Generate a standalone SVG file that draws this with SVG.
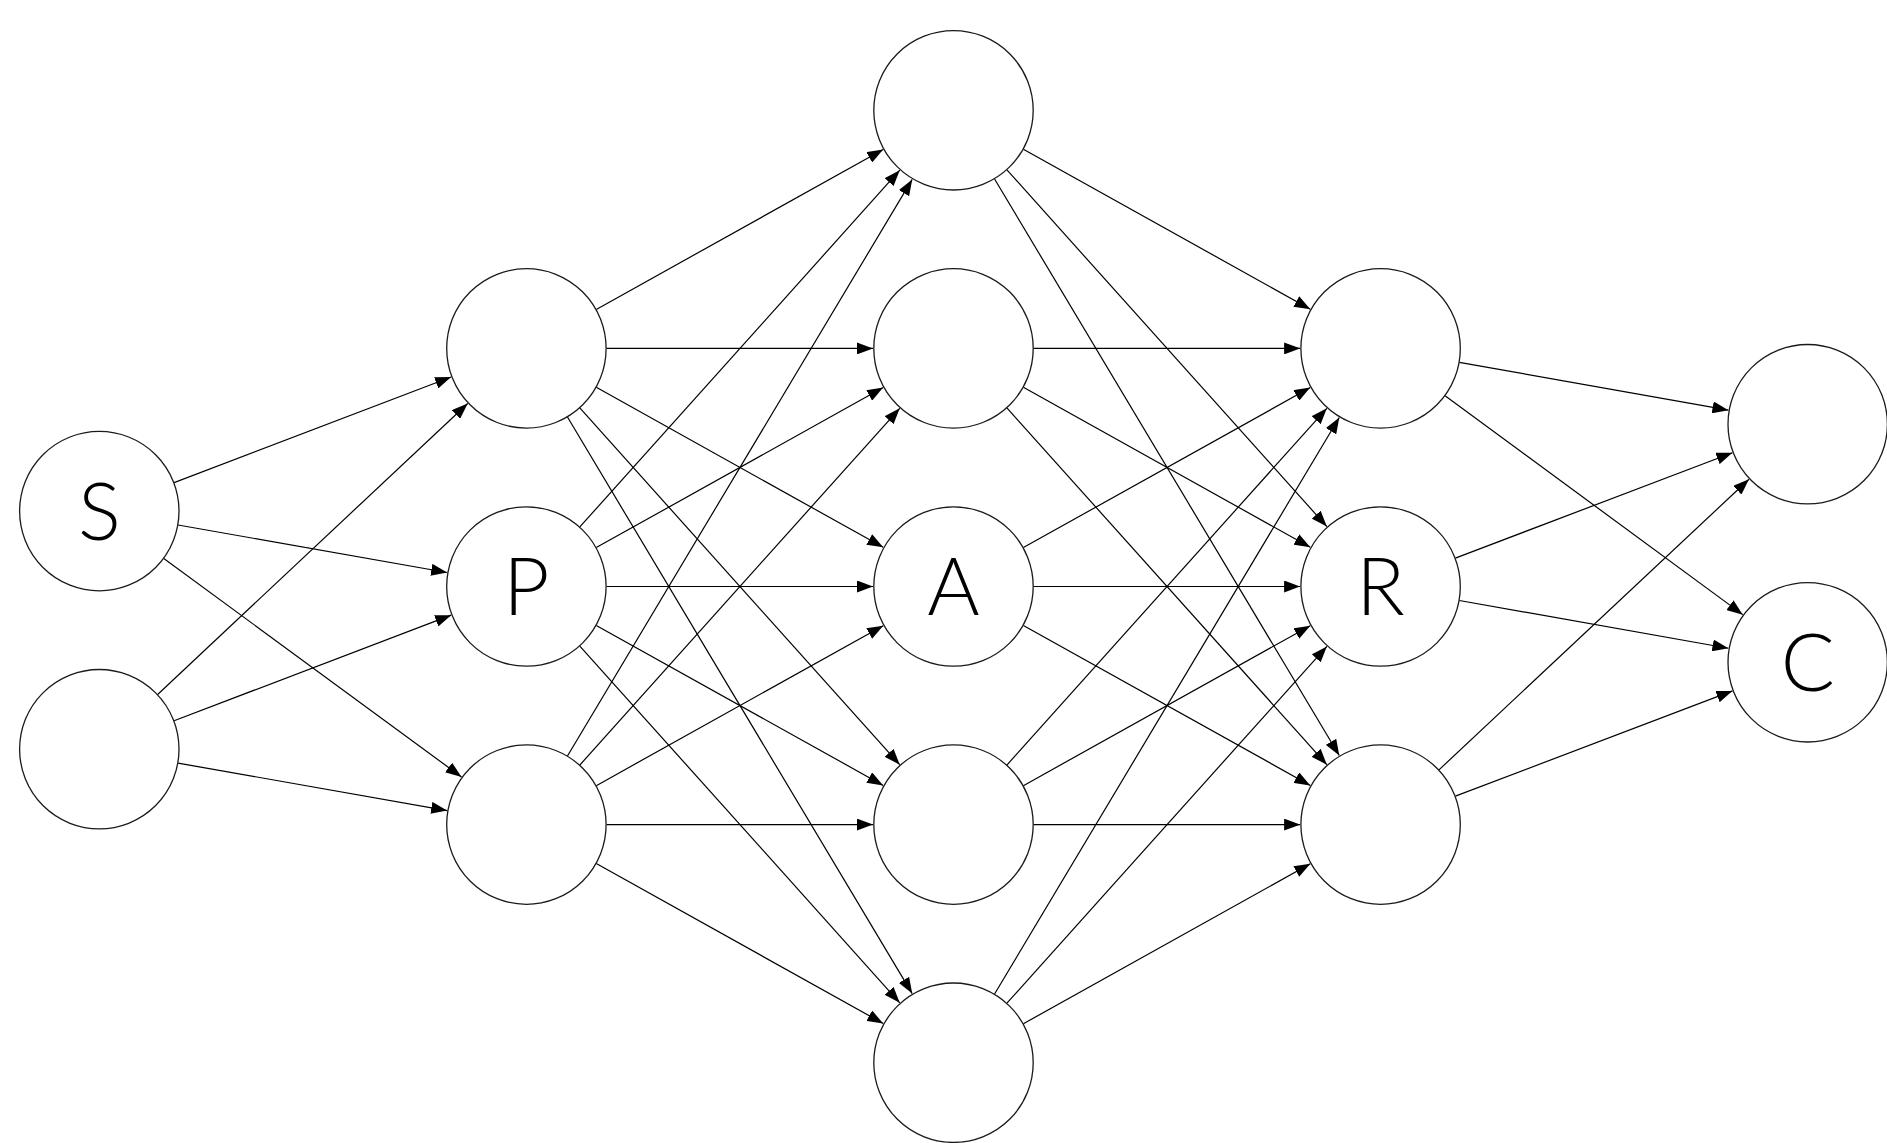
<svg xmlns="http://www.w3.org/2000/svg" width="1887" height="1143" viewBox="0 0 1887 1143">
  <style>
    .node circle { fill: #ffffff; stroke: #1a1a1a; stroke-width: 1.3; }
    .node text { font-family: "Lato", "Liberation Sans", sans-serif; font-weight: 300; font-size: 80px; fill: #000000; text-anchor: middle; }
    #connectors line { stroke: #000000; stroke-width: 1.2; fill: none; marker-end: url(#arrow); }
  </style>
  <defs>
    <marker id="arrow" markerUnits="userSpaceOnUse" markerWidth="16" markerHeight="12" viewBox="0 0 16 12" refX="16" refY="6" orient="auto">
      <path d="M0,0 L16,6 L0,12 z" fill="#000000"/>
    </marker>
  </defs>
  <rect width="1887" height="1143" fill="#ffffff"/>

  <g id="connectors">
    <!-- input layer to first hidden layer -->
    <line x1="174.07" y1="482.62" x2="451.16" y2="377.06"/>
    <line x1="178.08" y1="525.01" x2="447.12" y2="572.50"/>
    <line x1="163.79" y1="558.44" x2="461.51" y2="776.97"/>
    <line x1="157.64" y1="694.46" x2="467.70" y2="403.49"/>
    <line x1="174.07" y1="720.72" x2="451.16" y2="615.16"/>
    <line x1="178.08" y1="763.11" x2="447.12" y2="810.60"/>

    <!-- first hidden layer to middle layer -->
    <line x1="596.27" y1="309.45" x2="883.19" y2="149.50"/>
    <line x1="606.40" y1="348.40" x2="873.00" y2="348.40"/>
    <line x1="596.27" y1="387.35" x2="883.19" y2="547.30"/>
    <line x1="579.82" y1="407.95" x2="899.75" y2="764.68"/>
    <line x1="567.46" y1="417.06" x2="912.19" y2="993.61"/>

    <line x1="579.82" y1="526.95" x2="899.75" y2="170.22"/>
    <line x1="596.27" y1="547.55" x2="883.19" y2="387.60"/>
    <line x1="606.40" y1="586.50" x2="873.00" y2="586.50"/>
    <line x1="596.27" y1="625.45" x2="883.19" y2="785.40"/>
    <line x1="579.82" y1="646.05" x2="899.75" y2="1002.78"/>

    <line x1="567.46" y1="755.94" x2="912.19" y2="179.39"/>
    <line x1="579.82" y1="765.05" x2="899.75" y2="408.32"/>
    <line x1="596.27" y1="785.65" x2="883.19" y2="625.70"/>
    <line x1="606.40" y1="824.60" x2="873.00" y2="824.60"/>
    <line x1="596.27" y1="863.55" x2="883.19" y2="1023.50"/>

    <!-- middle layer to third hidden layer -->
    <line x1="1023.37" y1="149.25" x2="1310.29" y2="309.20"/>
    <line x1="1006.92" y1="169.85" x2="1326.85" y2="526.58"/>
    <line x1="994.56" y1="178.96" x2="1339.29" y2="755.51"/>

    <line x1="1033.50" y1="348.40" x2="1300.10" y2="348.40"/>
    <line x1="1023.37" y1="387.35" x2="1310.29" y2="547.30"/>
    <line x1="1006.92" y1="407.95" x2="1326.85" y2="764.68"/>

    <line x1="1023.37" y1="547.55" x2="1310.29" y2="387.60"/>
    <line x1="1033.50" y1="586.50" x2="1300.10" y2="586.50"/>
    <line x1="1023.37" y1="625.45" x2="1310.29" y2="785.40"/>

    <line x1="1006.92" y1="765.05" x2="1326.85" y2="408.32"/>
    <line x1="1023.37" y1="785.65" x2="1310.29" y2="625.70"/>
    <line x1="1033.50" y1="824.60" x2="1300.10" y2="824.60"/>

    <line x1="994.56" y1="994.04" x2="1339.29" y2="417.49"/>
    <line x1="1006.92" y1="1003.15" x2="1326.85" y2="646.42"/>
    <line x1="1023.37" y1="1023.75" x2="1310.29" y2="863.80"/>

    <!-- third hidden layer to output layer -->
    <line x1="1459.37" y1="362.38" x2="1728.44" y2="410.14"/>
    <line x1="1445.06" y1="395.78" x2="1742.83" y2="614.63"/>
    <line x1="1455.38" y1="558.08" x2="1732.45" y2="452.80"/>
    <line x1="1459.37" y1="600.48" x2="1728.44" y2="648.24"/>
    <line x1="1438.96" y1="769.88" x2="1748.98" y2="479.26"/>
    <line x1="1455.38" y1="796.18" x2="1732.45" y2="690.90"/>
  </g>

  <!-- input layer -->
  <g id="node-s" class="node"><circle cx="99.3" cy="511.1" r="79.7"/><text x="99.3" y="539.6">S</text></g>
  <g id="node-in2" class="node"><circle cx="99.3" cy="749.2" r="79.7"/></g>

  <!-- first hidden layer -->
  <g id="node-h1a" class="node"><circle cx="526.4" cy="348.4" r="79.7"/></g>
  <g id="node-p" class="node"><circle cx="526.4" cy="586.5" r="79.7"/><text x="526.4" y="615">P</text></g>
  <g id="node-h1c" class="node"><circle cx="526.4" cy="824.6" r="79.7"/></g>

  <!-- middle layer -->
  <g id="node-m1" class="node"><circle cx="953.5" cy="110.3" r="79.7"/></g>
  <g id="node-m2" class="node"><circle cx="953.5" cy="348.4" r="79.7"/></g>
  <g id="node-a" class="node"><circle cx="953.5" cy="586.5" r="79.7"/><text x="953.5" y="615">A</text></g>
  <g id="node-m4" class="node"><circle cx="953.5" cy="824.6" r="79.7"/></g>
  <g id="node-m5" class="node"><circle cx="953.5" cy="1062.7" r="79.7"/></g>

  <!-- third hidden layer -->
  <g id="node-h3a" class="node"><circle cx="1380.6" cy="348.4" r="79.7"/></g>
  <g id="node-r" class="node"><circle cx="1380.6" cy="586.5" r="79.7"/><text x="1380.6" y="615">R</text></g>
  <g id="node-h3c" class="node"><circle cx="1380.6" cy="824.6" r="79.7"/></g>

  <!-- output layer -->
  <g id="node-out1" class="node"><circle cx="1807.7" cy="424.2" r="79.7"/></g>
  <g id="node-c" class="node"><circle cx="1807.7" cy="662.3" r="79.7"/><text x="1807.7" y="690.8">C</text></g>
</svg>
